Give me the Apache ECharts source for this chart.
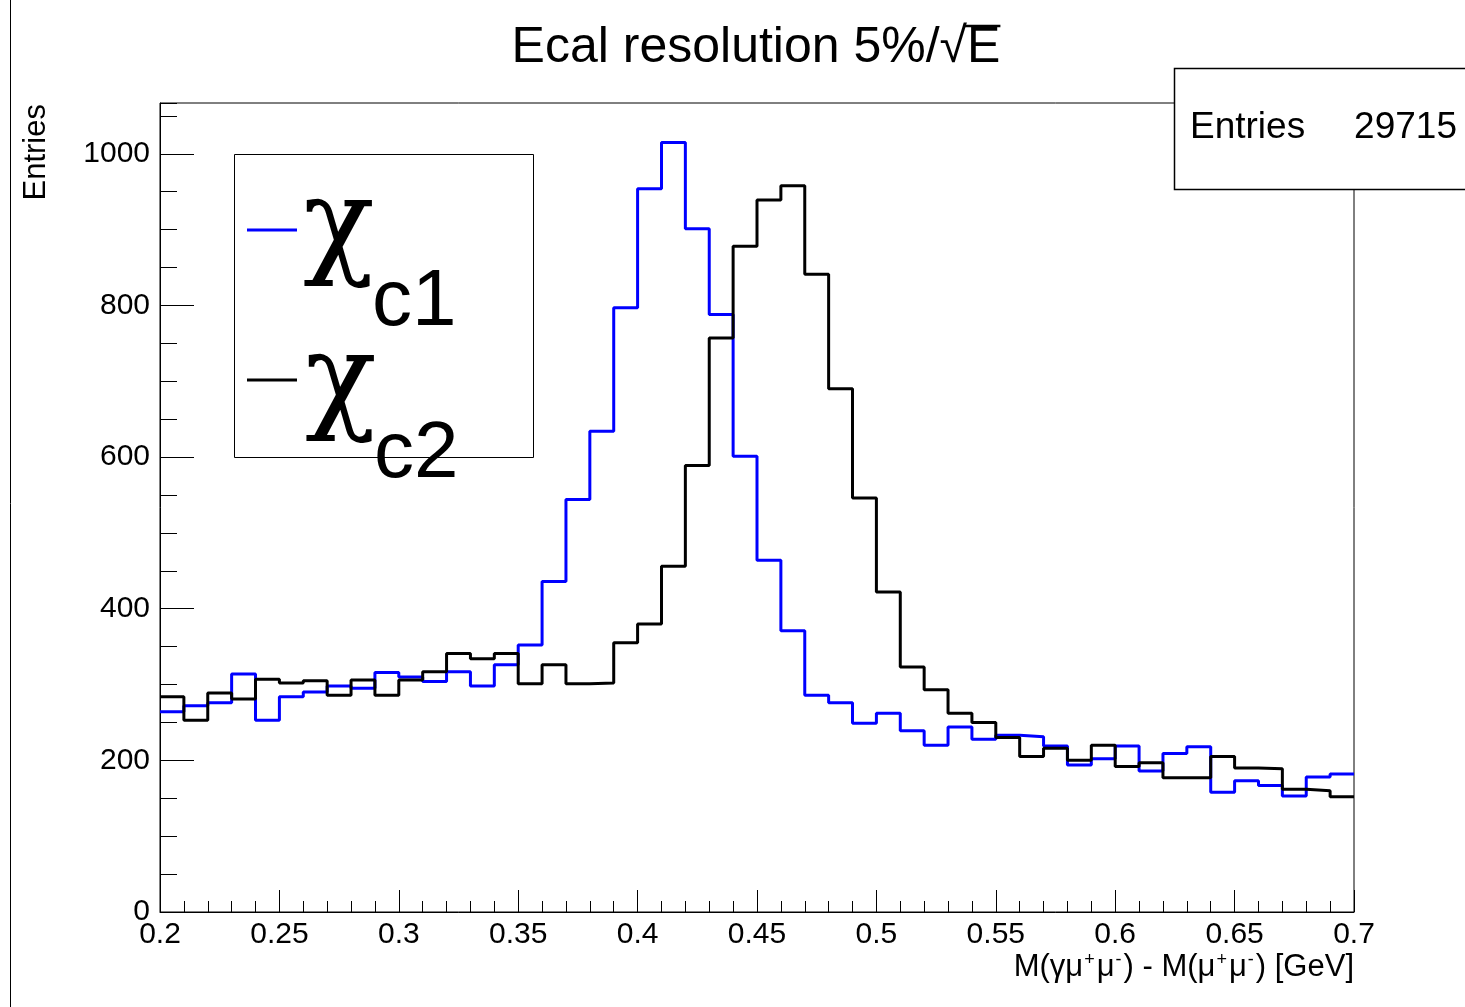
<!DOCTYPE html>
<html><head><meta charset="utf-8">
<script src="https://cdn.jsdelivr.net/npm/echarts@6/dist/echarts.min.js"></script>
<style>html,body{margin:0;padding:0;background:#fff}#c{width:1465px;height:1007px}</style>
</head><body><div id="c"></div>
<script>
// ---- data ----
const binEdges = [0.20,0.21,0.22,0.23,0.24,0.25,0.26,0.27,0.28,0.29,
  0.30,0.31,0.32,0.33,0.34,0.35,0.36,0.37,0.38,0.39,
  0.40,0.41,0.42,0.43,0.44,0.45,0.46,0.47,0.48,0.49,
  0.50,0.51,0.52,0.53,0.54,0.55,0.56,0.57,0.58,0.59,
  0.60,0.61,0.62,0.63,0.64,0.65,0.66,0.67,0.68,0.69,0.70];
const chic1 = [264,272,276,314,253,284,290,298,295,316,
  310,304,317,298,326,352,436,544,634,797,
  954,1015,901,788,601,464,371,286,276,249,
  262,239,220,244,228,233,231,219,194,202,
  219,186,209,218,158,173,167,153,178,182];
const chic2 = [284,253,289,281,307,302,305,286,306,286,
  306,317,341,334,341,301,326,301,302,355,
  380,456,589,757,878,939,958,841,690,546,
  422,323,293,262,250,230,205,216,200,220,
  192,197,177,177,205,190,189,162,160,152];
const seriesNames = ['χc1','χc2'];
const titleText = 'Ecal resolution 5%/√E';
const statsLabel = 'Entries';
const statsValue = '29715';
const yTitle = 'Entries';

function stepData(vals){
  const d = vals.map((v,i)=>[binEdges[i], v]);
  d.push([binEdges[binEdges.length-1], vals[vals.length-1]]);
  return d;
}

const FF = '"Liberation Sans", Arial, Helvetica, sans-serif';
const FS = '"DejaVu Serif", serif';
const cv = document.createElement('canvas').getContext('2d');
const titleSize = 50;
cv.font = titleSize + 'px "Liberation Sans"';
const wTitle = cv.measureText(titleText).width;
const wPre = cv.measureText(titleText.slice(0,-1)).width;
const titleCx = 756, titleY = 48;
const tx0 = titleCx - wTitle/2;

const chart = echarts.init(document.getElementById('c'), null, {renderer:'canvas'});
chart.setOption({
  animation:false,
  backgroundColor:'#fff',
  grid:{left:160, right:111, top:103, bottom:95, show:true, borderColor:'#000', borderWidth:1, backgroundColor:'transparent'},
  xAxis:{type:'value', min:0.2, max:0.7, interval:0.05,
    axisLine:{show:true, lineStyle:{color:'#000', width:1}},
    axisTick:{show:true, inside:true, length:22, lineStyle:{color:'#000', width:1}},
    minorTick:{show:true, splitNumber:5, length:11, lineStyle:{color:'#000', width:1}},
    splitLine:{show:false}, minorSplitLine:{show:false},
    axisLabel:{color:'#000', fontSize:30, fontFamily:FF, margin:8,
      formatter:v=>String(+v.toFixed(2))}},
  yAxis:[
    {type:'value', min:0, max:1067, interval:200, position:'left',
      axisLine:{show:true, lineStyle:{color:'#000', width:1}},
      axisTick:{show:true, inside:true, length:34, lineStyle:{color:'#000', width:1}},
      splitLine:{show:false},
      axisLabel:{color:'#000', fontSize:30, fontFamily:FF, margin:10, showMaxLabel:false,
        formatter:v=> (v%200===0 ? String(v) : '')}},
    {type:'value', min:0, max:1067, interval:50, position:'left', offset:0,
      axisLine:{show:false},
      axisTick:{show:true, inside:true, length:17, lineStyle:{color:'#000', width:1}},
      splitLine:{show:false}, axisLabel:{show:false}}
  ],
  series:[
    {name:seriesNames[0], type:'line', step:'end', data:stepData(chic1), symbol:'none',
      lineStyle:{color:'#0000ff', width:3}, z:2},
    {name:seriesNames[1], type:'line', step:'end', data:stepData(chic2), symbol:'none',
      lineStyle:{color:'#000000', width:3}, z:3}
  ],
  graphic:[
    {type:'line', shape:{x1:10.5,y1:0,x2:10.5,y2:1007}, style:{stroke:'#000', lineWidth:1}},
    {type:'text', x:tx0, y:titleY, style:{text:titleText, fontSize:titleSize, fontFamily:FF, fill:'#000', textAlign:'left', textVerticalAlign:'middle'}},
    {type:'line', shape:{x1:tx0+wPre-4, y1:26, x2:tx0+wTitle, y2:26}, style:{stroke:'#000', lineWidth:2.5}},
    {type:'text', x:36, y:104, rotation:Math.PI/2, style:{text:yTitle, fontSize:31, fontFamily:FF, fill:'#000', textAlign:'right', textVerticalAlign:'middle'}},
    {type:'text', x:1354, y:967, style:{text:'M(γμ{s|+}μ{s|-}) - M(μ{s|+}μ{s|-}) [GeV]', fontSize:31, fontFamily:FF, fill:'#000', textAlign:'right', textVerticalAlign:'middle',
      rich:{s:{fontSize:18, fontFamily:FF, verticalAlign:'top', fill:'#000', padding:[0,2,0,1]}}}},
    // legend
    {type:'rect', z:10, shape:{x:234.5,y:154.5,width:299,height:303}, style:{fill:'#fff', stroke:'#000', lineWidth:1}},
    {type:'line', z:11, shape:{x1:247,y1:230,x2:297,y2:230}, style:{stroke:'#0000ff', lineWidth:3}},
    {type:'line', z:11, shape:{x1:247,y1:380,x2:297,y2:380}, style:{stroke:'#000', lineWidth:3}},
    {type:'text', z:11, x:303, y:230, style:{text:'χ', fontSize:118, fontFamily:FS, fill:'#000', textAlign:'left', textVerticalAlign:'middle'}},
    {type:'text', z:11, x:372, y:303, style:{text:'c1', fontSize:80, fontFamily:FF, fill:'#000', textAlign:'left', textVerticalAlign:'middle'}},
    {type:'text', z:11, x:305, y:385, style:{text:'χ', fontSize:118, fontFamily:FS, fill:'#000', textAlign:'left', textVerticalAlign:'middle'}},
    {type:'text', z:11, x:374, y:455, style:{text:'c2', fontSize:80, fontFamily:FF, fill:'#000', textAlign:'left', textVerticalAlign:'middle'}},
    // stats box
    {type:'rect', z:10, shape:{x:1174.5,y:68.5,width:320,height:121}, style:{fill:'#fff', stroke:'#000', lineWidth:1.5}},
    {type:'text', z:11, x:1190, y:128, style:{text:statsLabel, fontSize:37, fontFamily:FF, fill:'#000', textAlign:'left', textVerticalAlign:'middle'}},
    {type:'text', z:11, x:1457, y:128, style:{text:statsValue, fontSize:37, fontFamily:FF, fill:'#000', textAlign:'right', textVerticalAlign:'middle'}}
  ]
});
</script>
</body></html>
